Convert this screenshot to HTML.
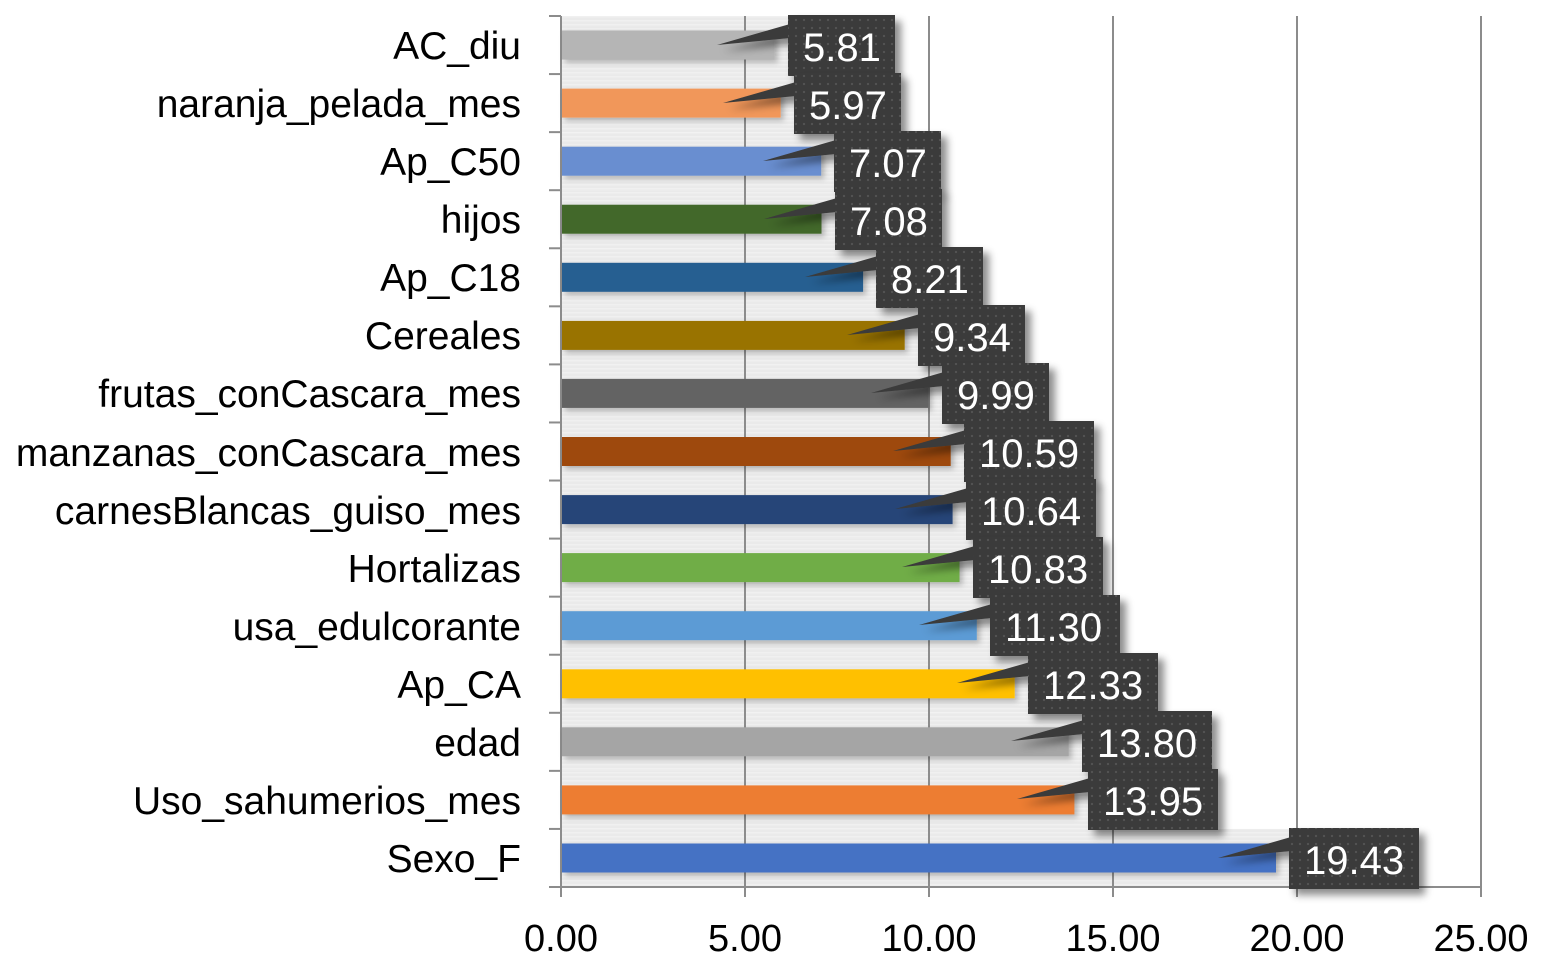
<!DOCTYPE html>
<html>
<head>
<meta charset="utf-8">
<style>
html,body{margin:0;padding:0;background:#fff;}
svg{display:block;}
text{font-family:"Liberation Sans",Arial,sans-serif;}
</style>
</head>
<body>
<svg width="1541" height="965" viewBox="0 0 1541 965" xmlns="http://www.w3.org/2000/svg">
<defs>
  <pattern id="dots" width="8" height="8" patternUnits="userSpaceOnUse">
    <rect width="8" height="8" fill="#3a3a3a"/>
    <circle cx="4" cy="4" r="1.1" fill="#545454"/>
  </pattern>
  <pattern id="stripes" width="10" height="4" patternUnits="userSpaceOnUse">
    <rect width="10" height="4" fill="#eaeaea"/>
    <rect y="0" width="10" height="1.5" fill="#f0f0f0"/>
  </pattern>
  <filter id="sh" x="-20%" y="-20%" width="150%" height="160%">
    <feDropShadow dx="6" dy="6" stdDeviation="4" flood-color="#000" flood-opacity="0.45"/>
  </filter>
  <filter id="bsh" x="-5%" y="-30%" width="110%" height="170%">
    <feDropShadow dx="3" dy="3" stdDeviation="3" flood-color="#000" flood-opacity="0.25"/>
  </filter>
</defs>

<!-- gray row bands -->
<g fill="url(#stripes)">
  <rect x="562" y="16" width="226" height="58.07"/>
  <rect x="562" y="74.07" width="232" height="58.07"/>
  <rect x="562" y="132.13" width="272" height="58.07"/>
  <rect x="562" y="190.2" width="273" height="58.07"/>
  <rect x="562" y="248.27" width="314" height="58.07"/>
  <rect x="562" y="306.33" width="356" height="58.07"/>
  <rect x="562" y="364.4" width="380" height="58.07"/>
  <rect x="562" y="422.47" width="402" height="58.07"/>
  <rect x="562" y="480.53" width="404" height="58.07"/>
  <rect x="562" y="538.6" width="411" height="58.07"/>
  <rect x="562" y="596.67" width="428" height="58.07"/>
  <rect x="562" y="654.73" width="466" height="58.07"/>
  <rect x="562" y="712.8" width="520" height="58.07"/>
  <rect x="562" y="770.87" width="526" height="58.07"/>
  <rect x="562" y="828.93" width="727" height="58.07"/>
</g>

<!-- gridlines -->
<g stroke="#8c8c8c" stroke-width="2">
  <line x1="745" y1="16" x2="745" y2="897"/>
  <line x1="929" y1="16" x2="929" y2="897"/>
  <line x1="1113" y1="16" x2="1113" y2="897"/>
  <line x1="1297" y1="16" x2="1297" y2="897"/>
  <line x1="1481" y1="16" x2="1481" y2="897"/>
  <line x1="561" y1="16" x2="561" y2="897"/>
  <line x1="549" y1="887" x2="1482" y2="887"/>
</g>
<g stroke="#8c8c8c" stroke-width="2">
  <line x1="549" y1="16" x2="561" y2="16"/>
  <line x1="549" y1="74.07" x2="561" y2="74.07"/>
  <line x1="549" y1="132.13" x2="561" y2="132.13"/>
  <line x1="549" y1="190.2" x2="561" y2="190.2"/>
  <line x1="549" y1="248.27" x2="561" y2="248.27"/>
  <line x1="549" y1="306.33" x2="561" y2="306.33"/>
  <line x1="549" y1="364.4" x2="561" y2="364.4"/>
  <line x1="549" y1="422.47" x2="561" y2="422.47"/>
  <line x1="549" y1="480.53" x2="561" y2="480.53"/>
  <line x1="549" y1="538.6" x2="561" y2="538.6"/>
  <line x1="549" y1="596.67" x2="561" y2="596.67"/>
  <line x1="549" y1="654.73" x2="561" y2="654.73"/>
  <line x1="549" y1="712.8" x2="561" y2="712.8"/>
  <line x1="549" y1="770.87" x2="561" y2="770.87"/>
  <line x1="549" y1="828.93" x2="561" y2="828.93"/>
</g>

<!-- bars -->
<g filter="url(#bsh)">
  <rect x="562" y="30.5" width="212.8" height="29" fill="#B5B5B5"/>
  <rect x="562" y="88.6" width="218.7" height="29" fill="#F1975A"/>
  <rect x="562" y="146.7" width="259.2" height="29" fill="#698ED0"/>
  <rect x="562" y="204.7" width="259.5" height="29" fill="#43682B"/>
  <rect x="562" y="262.8" width="301.1" height="29" fill="#255E91"/>
  <rect x="562" y="320.9" width="342.7" height="29" fill="#997300"/>
  <rect x="562" y="378.9" width="366.6" height="29" fill="#636363"/>
  <rect x="562" y="437" width="388.7" height="29" fill="#9E480E"/>
  <rect x="562" y="495.1" width="390.6" height="29" fill="#264478"/>
  <rect x="562" y="553.1" width="397.5" height="29" fill="#70AD47"/>
  <rect x="562" y="611.2" width="414.8" height="29" fill="#5B9BD5"/>
  <rect x="562" y="669.3" width="452.7" height="29" fill="#FFC000"/>
  <rect x="562" y="727.3" width="506.8" height="29" fill="#A5A5A5"/>
  <rect x="562" y="785.4" width="512.4" height="29" fill="#ED7D31"/>
  <rect x="562" y="843.5" width="714" height="29" fill="#4472C4"/>
</g>

<!-- category labels -->
<g font-size="39" fill="#000" text-anchor="end">
  <text x="521" y="59">AC_diu</text>
  <text x="521" y="117">naranja_pelada_mes</text>
  <text x="521" y="175">Ap_C50</text>
  <text x="521" y="233">hijos</text>
  <text x="521" y="291">Ap_C18</text>
  <text x="521" y="349">Cereales</text>
  <text x="521" y="407">frutas_conCascara_mes</text>
  <text x="521" y="466">manzanas_conCascara_mes</text>
  <text x="521" y="524">carnesBlancas_guiso_mes</text>
  <text x="521" y="582">Hortalizas</text>
  <text x="521" y="640">usa_edulcorante</text>
  <text x="521" y="698">Ap_CA</text>
  <text x="521" y="756">edad</text>
  <text x="521" y="814">Uso_sahumerios_mes</text>
  <text x="521" y="872">Sexo_F</text>
</g>

<!-- axis tick labels -->
<g font-size="38" fill="#000" text-anchor="middle">
  <text x="561" y="951">0.00</text>
  <text x="745" y="951">5.00</text>
  <text x="929" y="951">10.00</text>
  <text x="1113" y="951">15.00</text>
  <text x="1297" y="951">20.00</text>
  <text x="1481" y="951">25.00</text>
</g>

<!-- callouts -->
<g font-size="40" fill="#fff">
  <g filter="url(#sh)">
    <polygon points="790,24 717,45 790,38" fill="#3a3a3a"/>
    <rect x="788" y="15" width="107" height="61" fill="url(#dots)"/>
  </g>
  <text x="803" y="61">5.81</text>

  <g filter="url(#sh)">
    <polygon points="796,82 723,103 796,96" fill="#3a3a3a"/>
    <rect x="794" y="73" width="107" height="61" fill="url(#dots)"/>
  </g>
  <text x="809" y="119">5.97</text>

  <g filter="url(#sh)">
    <polygon points="836,140 763,161 836,154" fill="#3a3a3a"/>
    <rect x="834" y="131" width="107" height="61" fill="url(#dots)"/>
  </g>
  <text x="849" y="177">7.07</text>

  <g filter="url(#sh)">
    <polygon points="837,198 764,219 837,212" fill="#3a3a3a"/>
    <rect x="835" y="189" width="107" height="61" fill="url(#dots)"/>
  </g>
  <text x="850" y="235">7.08</text>

  <g filter="url(#sh)">
    <polygon points="878,256 805,277 878,270" fill="#3a3a3a"/>
    <rect x="876" y="247" width="107" height="61" fill="url(#dots)"/>
  </g>
  <text x="891" y="293">8.21</text>

  <g filter="url(#sh)">
    <polygon points="920,314 847,335 920,328" fill="#3a3a3a"/>
    <rect x="918" y="305" width="107" height="61" fill="url(#dots)"/>
  </g>
  <text x="933" y="351">9.34</text>

  <g filter="url(#sh)">
    <polygon points="944,372 871,393 944,386" fill="#3a3a3a"/>
    <rect x="942" y="363" width="107" height="61" fill="url(#dots)"/>
  </g>
  <text x="957" y="409">9.99</text>

  <g filter="url(#sh)">
    <polygon points="966,430 893,451 966,444" fill="#3a3a3a"/>
    <rect x="964" y="421" width="130" height="61" fill="url(#dots)"/>
  </g>
  <text x="979" y="467">10.59</text>

  <g filter="url(#sh)">
    <polygon points="968,488 895,509 968,502" fill="#3a3a3a"/>
    <rect x="966" y="479" width="130" height="61" fill="url(#dots)"/>
  </g>
  <text x="981" y="525">10.64</text>

  <g filter="url(#sh)">
    <polygon points="975,546 902,567 975,560" fill="#3a3a3a"/>
    <rect x="973" y="537" width="130" height="61" fill="url(#dots)"/>
  </g>
  <text x="988" y="583">10.83</text>

  <g filter="url(#sh)">
    <polygon points="992,604 919,625 992,618" fill="#3a3a3a"/>
    <rect x="990" y="595" width="130" height="61" fill="url(#dots)"/>
  </g>
  <text x="1005" y="641">11.30</text>

  <g filter="url(#sh)">
    <polygon points="1030,662 957,683 1030,676" fill="#3a3a3a"/>
    <rect x="1028" y="653" width="130" height="61" fill="url(#dots)"/>
  </g>
  <text x="1043" y="699">12.33</text>

  <g filter="url(#sh)">
    <polygon points="1084,720 1011,741 1084,734" fill="#3a3a3a"/>
    <rect x="1082" y="711" width="130" height="61" fill="url(#dots)"/>
  </g>
  <text x="1097" y="757">13.80</text>

  <g filter="url(#sh)">
    <polygon points="1090,778 1017,799 1090,792" fill="#3a3a3a"/>
    <rect x="1088" y="769" width="130" height="61" fill="url(#dots)"/>
  </g>
  <text x="1103" y="815">13.95</text>

  <g filter="url(#sh)">
    <polygon points="1291,837 1218,858 1291,851" fill="#3a3a3a"/>
    <rect x="1289" y="828" width="130" height="61" fill="url(#dots)"/>
  </g>
  <text x="1304" y="874">19.43</text>
</g>
</svg>
</body>
</html>
